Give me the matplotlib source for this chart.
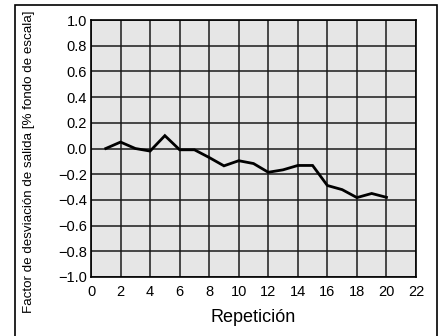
import matplotlib
matplotlib.use("Agg")
import matplotlib.pyplot as plt
from matplotlib.patches import Rectangle

plt.rcParams['font.family'] = ['Liberation Sans', 'DejaVu Sans']

repeticion = list(range(1, 21))
desviacion = [0.00, 0.05, 0.00, -0.02, 0.10, -0.01, -0.01, -0.07, -0.135, -0.095,
              -0.117, -0.185, -0.166, -0.132, -0.132, -0.288, -0.32, -0.382, -0.35, -0.38]

x_ticks = list(range(0, 23, 2))
y_ticks = [-1.0, -0.8, -0.6, -0.4, -0.2, 0.0, 0.2, 0.4, 0.6, 0.8, 1.0]
y_labels = ["\u22121.0", "\u22120.8", "\u22120.6", "\u22120.4", "\u22120.2",
            "0.0", "0.2", "0.4", "0.6", "0.8", "1.0"]

fig = plt.figure(figsize=(4.43, 3.36), dpi=100)
fig.patch.set_facecolor('white')

# outer frame around the whole figure
frame = Rectangle((14.5 / 443, -0.05), (436.5 - 14.5) / 443, 1.05 - 4.5 / 336,
                  transform=fig.transFigure, fill=False, edgecolor='black',
                  linewidth=1.2)
fig.patches.append(frame)

ax = fig.add_axes([91 / 443, 1 - 277 / 336, (416 - 91) / 443, (277 - 20) / 336])
ax.set_facecolor('#e6e6e6')
ax.set_xlim(0, 22)
ax.set_ylim(-1.0, 1.0)
ax.set_xticks(x_ticks)
ax.set_yticks(y_ticks)
ax.set_yticklabels(y_labels)
ax.tick_params(length=0, labelsize=10.5)
ax.tick_params(axis='x', pad=6)
ax.tick_params(axis='y', pad=3)
ax.grid(True, color='#1a1a1a', linewidth=1.1)
ax.set_axisbelow(True)
for s in ax.spines.values():
    s.set_color('black')
    s.set_linewidth(1.2)

ax.plot(repeticion, desviacion, color='black', linewidth=2.0, solid_joinstyle='miter')

ax.set_xlabel("Repetición", fontsize=13, labelpad=7)
fig.text(29 / 443, 1 - 162 / 336, "Factor de desviación de salida [% fondo de escala]",
         rotation=90, ha='center', va='center', fontsize=9.6)

fig.savefig("out.png", dpi=100)
